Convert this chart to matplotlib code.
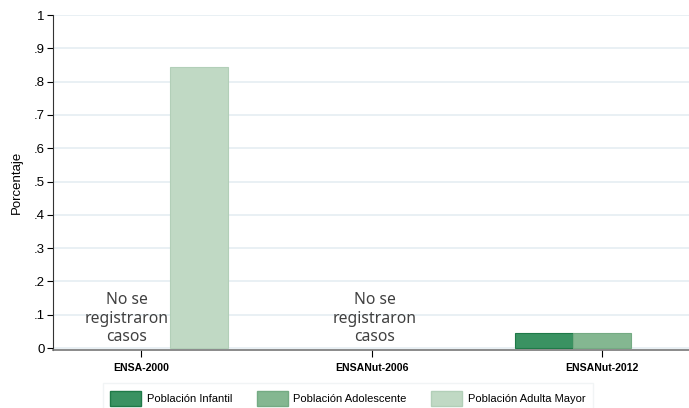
import matplotlib
matplotlib.use('Agg')
from matplotlib import pyplot as plt
from matplotlib.patches import Patch
import numpy as np

encuestas = ['ENSA-2000', 'ENSANut-2006', 'ENSANut-2012']
series = ['Población Infantil', 'Población Adolescente', 'Población Adulta Mayor']
infantil = [0, 0, 0.045]
adolescente = [0, 0, 0.045]
adulta = [0.843, 0, 0]
colores = ['#3a9262', '#84b791', '#c0d9c4']
bordes = ['#1f7a48', '#74ab83', '#b2cfb8']
sin_casos = ['ENSA-2000', 'ENSANut-2006']
yticks = [0, .1, .2, .3, .4, .5, .6, .7, .8, .9, 1]
ylabels = ['0', '.1', '.2', '.3', '.4', '.5', '.6', '.7', '.8', '.9', '1']

fig = plt.figure(figsize=(6.89, 4.08), dpi=100)
ax = fig.add_axes([53/689, 1-350/408, 636/689, 335/408])

x = np.arange(len(encuestas))
w = 0.2516
for i, vals in enumerate([infantil, adolescente, adulta]):
    pos = x + (i - 1) * w
    for p, v in zip(pos, vals):
        if v > 0:
            ax.bar(p, v, width=w, color=colores[i], edgecolor=bordes[i], linewidth=0.8, zorder=2)

# "No se registraron casos"
desplaz = {'ENSA-2000': -0.061, 'ENSANut-2006': 0.015}
for nombre in sin_casos:
    k = encuestas.index(nombre)
    ax.text(k + desplaz[nombre], 0.009, 'No se\nregistraron\ncasos', ha='center', va='bottom',
            fontsize=11.3, color='#404040', family='Noto Sans', linespacing=1.2, zorder=3)

ax.set_xlim(-0.382, 2.377)
ax.set_ylim(-0.006, 1.0)
ax.set_yticks(yticks)
ax.set_yticklabels(ylabels, fontsize=9.5, family='Liberation Sans')
ax.set_xticks(x)
ax.set_xticklabels(encuestas, fontsize=7.6, fontweight='bold', family='Liberation Sans')
ax.tick_params(axis='y', length=4, width=0.8, pad=2)
ax.tick_params(axis='x', length=5, width=0.8, pad=4.5)
ax.grid(axis='y', color='#e5eef2', linewidth=1.2, zorder=0)
ax.set_axisbelow(True)
for s in ['top', 'right']:
    ax.spines[s].set_visible(False)
ax.spines['left'].set_color('#333333')
ax.spines['bottom'].set_color('#777777')
ax.spines['bottom'].set_linewidth(1.2)
ax.set_ylabel('Porcentaje', fontsize=9.5, family='Liberation Sans', labelpad=8)

handles = [Patch(facecolor=colores[i], edgecolor=bordes[i], label=series[i]) for i in range(3)]
leg = fig.legend(handles=handles, loc='lower center', ncol=3, bbox_to_anchor=(0.505, -0.027),
                 prop={'family': 'Liberation Sans', 'size': 8}, frameon=True,
                 handlelength=2.8, handleheight=1.65, handletextpad=0.5, columnspacing=2.2,
                 borderpad=0.7, fancybox=False, edgecolor='#eef2f3')

fig.savefig('out.png', dpi=100)
